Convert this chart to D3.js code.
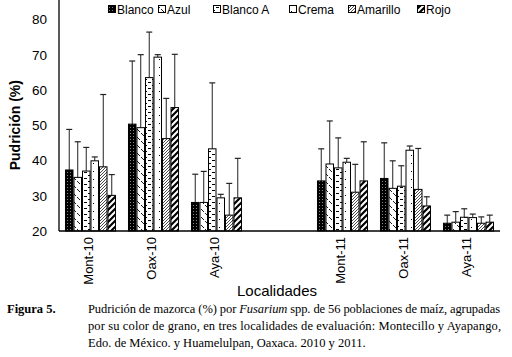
<!DOCTYPE html>
<html>
<head>
<meta charset="utf-8">
<script src="https://cdn.jsdelivr.net/npm/d3@7"></script>
<style>
  body { margin: 0; background: #fff; }
  svg { display: block; }
</style>
</head>
<body>
<div class="chart"></div>
<script>
// categories (empty slot separates the two years)
const localidades = ['Mont-10', 'Oax-10', 'Aya-10', '', 'Mont-11', 'Oax-11', 'Aya-11'];
const colores = ['Blanco', 'Azul', 'Blanco A', 'Crema', 'Amarillo', 'Rojo'];

// mean rot (%) per colour, in the order of localidades (null = empty slot)
const blanco   = [37.3, 50.3, 28.1, null, 34.2, 34.9, 22.2];
const azul     = [35.2, 49.3, 28.1, null, 39.0, 32.1, 22.5];
const blancoA  = [37.0, 63.5, 43.3, null, 37.9, 32.7, 23.9];
const crema    = [39.9, 69.3, 29.4, null, 39.5, 42.9, 23.8];
const amarillo = [38.2, 46.2, 24.5, null, 31.0, 31.8, 22.2];
const rojo     = [30.1, 55.0, 29.4, null, 34.2, 27.1, 22.5];

// top of the error bar
const blancoErr   = [48.8, 68.2, 36.1, null, 43.3, 45.0, 24.5];
const azulErr     = [45.3, 70.0, 36.9, null, 51.2, 39.9, 25.5];
const blancoAErr  = [43.7, 76.4, 62.0, null, 46.4, 38.5, 26.3];
const cremaErr    = [41.0, 70.0, 30.4, null, 40.6, 44.1, 24.8];
const amarilloErr = [58.7, 57.6, 33.5, null, 38.9, 43.4, 24.0];
const rojoErr     = [36.0, 70.1, 40.6, null, 45.3, 29.7, 24.5];

const yTicks = [20, 30, 40, 50, 60, 70, 80];

const series = [blanco, azul, blancoA, crema, amarillo, rojo];
const errors = [blancoErr, azulErr, blancoAErr, cremaErr, amarilloErr, rojoErr];

const W = 512, H = 357;
const svg = d3.select('div.chart').append('svg')
    .attr('width', W).attr('height', H);

// ---- patterns
const defs = svg.append('defs');
function pat(id, w, h, draw) {
    const p = defs.append('pattern').attr('id', id)
        .attr('patternUnits', 'userSpaceOnUse').attr('width', w).attr('height', h);
    draw(p);
}
pat('p0', 3, 3, p => {
    p.append('rect').attr('width', 3).attr('height', 3).attr('fill', '#000');
    p.append('rect').attr('x', 1).attr('y', 1).attr('width', 1).attr('height', 1).attr('fill', '#888');
});
pat('p1', 8, 8, p => {
    p.append('rect').attr('width', 8).attr('height', 8).attr('fill', '#fff');
    p.append('path').attr('d', 'M1,1 L4,4 M5,5 L8,8').attr('stroke', '#000').attr('stroke-width', 0.9);
});
pat('p2', 8, 6, p => {
    p.append('rect').attr('width', 8).attr('height', 6).attr('fill', '#fff');
    p.append('path').attr('d', 'M0,1.5 H3 M4,4.5 H7').attr('stroke', '#000').attr('stroke-width', 1);
});
pat('p3', 6, 8, p => {
    p.append('rect').attr('width', 6).attr('height', 8).attr('fill', '#fff');
    p.append('rect').attr('x', 3).attr('y', 3).attr('width', 1).attr('height', 1).attr('fill', '#000');
});
pat('p4', 3, 3, p => {
    p.append('rect').attr('width', 3).attr('height', 3).attr('fill', '#fff');
    p.append('path').attr('d', 'M-1,1 L1,-1 M0,3 L3,0 M2,4 L4,2').attr('stroke', '#000').attr('stroke-width', 0.7);
});
pat('p5', 6, 6, p => {
    p.append('rect').attr('width', 6).attr('height', 6).attr('fill', '#fff');
    p.append('path').attr('d', 'M-1.5,1.5 L1.5,-1.5 M0,6 L6,0 M4.5,7.5 L7.5,4.5').attr('stroke', '#000').attr('stroke-width', 2.2);
});

// ---- scales
const x = d3.scaleBand()
    .domain(localidades.map((d, i) => i))
    .range([59, 500])
    .paddingInner(0.19)
    .paddingOuter(0.095);
const xs = d3.scaleBand()
    .domain(colores)
    .range([0, x.bandwidth()]);
const y = d3.scaleLinear()
    .domain([20, 85.5])
    .range([231, 0]);

// ---- bars + error bars
colores.forEach((c, k) => {
    const rows = localidades.map((l, i) => ({ i, v: series[k][i], e: errors[k][i] }))
        .filter(d => d.v !== null);
    const g = svg.append('g');
    g.selectAll('line.err')
        .data(rows).enter().append('line')
        .attr('x1', d => x(d.i) + xs(c) + xs.bandwidth() / 2)
        .attr('x2', d => x(d.i) + xs(c) + xs.bandwidth() / 2)
        .attr('y1', d => y(d.v))
        .attr('y2', d => y(d.e))
        .attr('stroke', '#222').attr('stroke-width', 1);
    g.selectAll('line.cap')
        .data(rows).enter().append('line')
        .attr('x1', d => x(d.i) + xs(c) + xs.bandwidth() / 2 - 3)
        .attr('x2', d => x(d.i) + xs(c) + xs.bandwidth() / 2 + 3)
        .attr('y1', d => y(d.e))
        .attr('y2', d => y(d.e))
        .attr('stroke', '#222').attr('stroke-width', 1.2);
    g.selectAll('rect')
        .data(rows).enter().append('rect')
        .attr('x', d => x(d.i) + xs(c) + 0.5)
        .attr('y', d => y(d.v))
        .attr('width', xs.bandwidth() - 1)
        .attr('height', d => y(20) - y(d.v))
        .attr('fill', `url(#p${k})`)
        .attr('stroke', '#000').attr('stroke-width', 1);
});

// ---- axes
svg.append('line')
    .attr('x1', x.range()[0]).attr('x2', x.range()[0])
    .attr('y1', y(85.5)).attr('y2', y(20))
    .attr('stroke', '#000').attr('stroke-width', 1.3);
svg.append('line')
    .attr('x1', x.range()[0]).attr('x2', x.range()[1])
    .attr('y1', y(20)).attr('y2', y(20))
    .attr('stroke', '#000').attr('stroke-width', 1.3);

svg.append('g').selectAll('text')
    .data(yTicks).enter().append('text')
    .attr('x', 47).attr('y', d => y(d))
    .attr('dy', '0.36em')
    .attr('text-anchor', 'end')
    .attr('font-family', 'Liberation Sans, Arial, sans-serif')
    .attr('font-size', 13.5)
    .text(d => d);

svg.append('g').selectAll('text')
    .data(localidades.map((l, i) => ({ l, i })).filter(d => d.l !== ''))
    .enter().append('text')
    .attr('transform', d => `translate(${x(d.i) + x.bandwidth() / 2 - 2},237) rotate(-90)`)
    .attr('dy', '0.36em')
    .attr('text-anchor', 'end')
    .attr('font-family', 'Liberation Sans, Arial, sans-serif')
    .attr('font-size', 13)
    .text(d => d.l);

svg.append('text')
    .attr('x', 277).attr('y', 296)
    .attr('text-anchor', 'middle')
    .attr('font-family', 'Liberation Sans, Arial, sans-serif')
    .attr('font-size', 15)
    .text('Localidades');

svg.append('text')
    .attr('transform', `translate(20,${y(50)}) rotate(-90)`)
    .attr('text-anchor', 'middle')
    .attr('font-family', 'Liberation Sans, Arial, sans-serif')
    .attr('font-weight', 'bold')
    .attr('font-size', 14)
    .text('Pudrición (%)');

// ---- legend
const legendX = [108, 158, 213, 289, 348, 417];
const lg = svg.append('g');
colores.forEach((c, k) => {
    lg.append('rect')
        .attr('x', legendX[k] + 0.5).attr('y', 5.5)
        .attr('width', 7).attr('height', 7)
        .attr('fill', `url(#p${k})`)
        .attr('stroke', '#000').attr('stroke-width', 1);
    lg.append('text')
        .attr('x', legendX[k] + 9).attr('y', 14)
        .attr('font-family', 'Liberation Sans, Arial, sans-serif')
        .attr('font-size', 12)
        .text(c);
});

// ---- caption
const serif = 'Liberation Serif, Times New Roman, serif';
svg.append('text')
    .attr('x', 7).attr('y', 313)
    .attr('font-family', serif).attr('font-size', 12.5).attr('font-weight', 'bold')
    .text('Figura 5.');
const l1 = svg.append('text')
    .attr('x', 88).attr('y', 313)
    .attr('font-family', serif).attr('font-size', 12.5)
    .attr('textLength', 412).attr('lengthAdjust', 'spacing');
l1.append('tspan').text('Pudrición de mazorca (%) por ');
l1.append('tspan').attr('font-style', 'italic').text('Fusarium');
l1.append('tspan').text(' spp. de 56 poblaciones de maíz, agrupadas');
svg.append('text')
    .attr('x', 88).attr('y', 330)
    .attr('font-family', serif).attr('font-size', 12.5)
    .attr('textLength', 413).attr('lengthAdjust', 'spacing')
    .text('por su color de grano, en tres localidades de evaluación: Montecillo y Ayapango,');
svg.append('text')
    .attr('x', 88).attr('y', 347)
    .attr('font-family', serif).attr('font-size', 12.5)
    .text('Edo. de México. y Huamelulpan, Oaxaca. 2010 y 2011.');
</script>
</body>
</html>
